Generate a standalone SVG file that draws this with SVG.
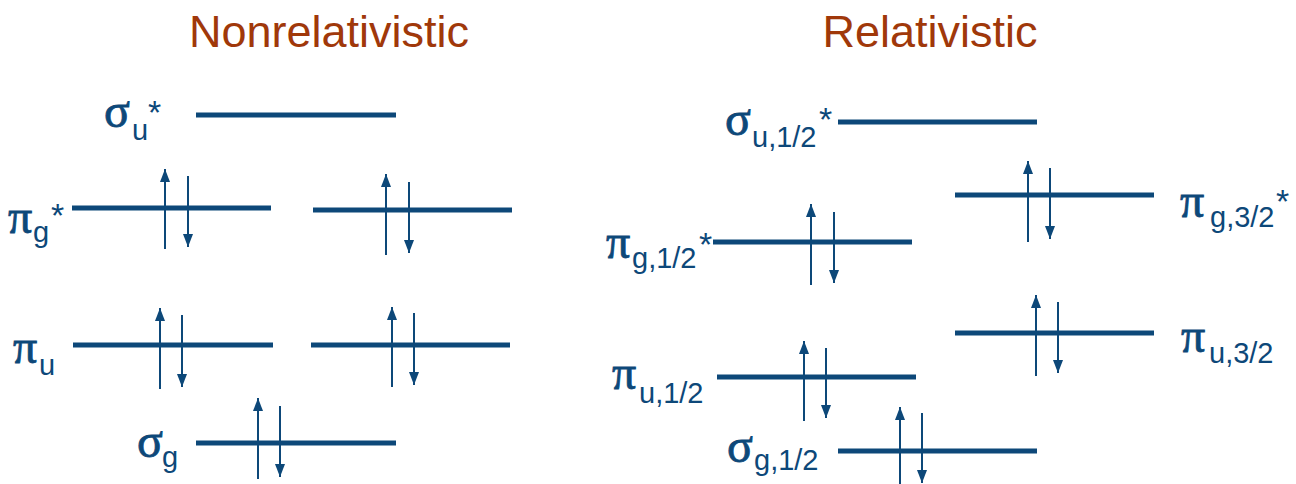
<svg xmlns="http://www.w3.org/2000/svg" width="1296" height="484" viewBox="0 0 1296 484">
<defs>
<marker id="ah" markerUnits="userSpaceOnUse" markerWidth="14" markerHeight="12" refX="13" refY="5" orient="auto">
<path d="M0,0 L13,5 L0,10 Z" fill="#0d4879"/>
</marker>
<style>
.title{font-family:"Liberation Sans",Arial,sans-serif;font-size:45px;fill:#a0380a;text-anchor:middle}
.lvl{stroke:#0d4879;stroke-width:5;fill:none}
.spin{stroke:#0d4879;stroke-width:2;fill:none;marker-end:url(#ah)}
.gk{font-family:"Liberation Serif","Times New Roman",serif;font-size:48px;fill:#0d4879;stroke:#0d4879;stroke-width:0.8}
.sb{font-family:"Liberation Sans",Arial,sans-serif;font-size:29px;fill:#0d4879}
.st{font-family:"Liberation Sans",Arial,sans-serif;font-size:34px;fill:#0d4879}
</style>
</defs>
<rect width="1296" height="484" fill="#ffffff"/>
<text class="title" x="329" y="47">Nonrelativistic</text>
<text class="title" x="930" y="47">Relativistic</text>

<g id="nr-sigma-u-star">
<line class="lvl" x1="196" y1="115" x2="396" y2="115"/>
<text><tspan class="gk" x="104" y="127">σ</tspan><tspan class="sb" x="132" y="140">u</tspan><tspan class="st" x="148" y="124">*</tspan></text>
</g>
<g id="nr-pi-g-star">
<line class="lvl" x1="72" y1="208" x2="271" y2="208"/>
<line class="lvl" x1="313" y1="210" x2="512" y2="210"/>
<text><tspan class="gk" x="8" y="233">π</tspan><tspan class="sb" x="33" y="242">g</tspan><tspan class="st" x="51" y="227">*</tspan></text>
</g>
<g id="nr-pi-u">
<line class="lvl" x1="73" y1="345" x2="273" y2="345"/>
<line class="lvl" x1="311" y1="345" x2="510" y2="345"/>
<text><tspan class="gk" x="13" y="363">π</tspan><tspan class="sb" x="39" y="375">u</tspan></text>
</g>
<g id="nr-sigma-g">
<line class="lvl" x1="196" y1="443" x2="396" y2="443"/>
<text><tspan class="gk" x="137" y="457">σ</tspan><tspan class="sb" x="162" y="467">g</tspan></text>
</g>

<g id="r-sigma-u-half-star">
<line class="lvl" x1="838" y1="122" x2="1037" y2="122"/>
<text><tspan class="gk" x="725" y="135">σ</tspan><tspan class="sb" x="752" y="147">u,1/2</tspan><tspan class="st" x="819" y="131">*</tspan></text>
</g>
<g id="r-pi-g-3half-star">
<line class="lvl" x1="955" y1="195" x2="1154" y2="195"/>
<text><tspan class="gk" x="1180" y="217">π</tspan><tspan class="sb" x="1210" y="227">g,3/2</tspan><tspan class="st" x="1276" y="213">*</tspan></text>
</g>
<g id="r-pi-g-half-star">
<line class="lvl" x1="713" y1="242" x2="912" y2="242"/>
<text><tspan class="gk" x="606" y="258">π</tspan><tspan class="sb" x="632" y="268">g,1/2</tspan><tspan class="st" x="699" y="256">*</tspan></text>
</g>
<g id="r-pi-u-3half">
<line class="lvl" x1="955" y1="333" x2="1154" y2="333"/>
<text><tspan class="gk" x="1181" y="352">π</tspan><tspan class="sb" x="1209" y="363">u,3/2</tspan></text>
</g>
<g id="r-pi-u-half">
<line class="lvl" x1="717" y1="377" x2="916" y2="377"/>
<text><tspan class="gk" x="612" y="389">π</tspan><tspan class="sb" x="639" y="403">u,1/2</tspan></text>
</g>
<g id="r-sigma-g-half">
<line class="lvl" x1="838" y1="451" x2="1037" y2="451"/>
<text><tspan class="gk" x="727" y="462">σ</tspan><tspan class="sb" x="754" y="470">g,1/2</tspan></text>
</g>

<g id="connectors">
<line class="spin" x1="165" y1="249" x2="165" y2="169"/>
<line class="spin" x1="188" y1="176" x2="188" y2="247"/>
<line class="spin" x1="386" y1="255" x2="386" y2="174"/>
<line class="spin" x1="409" y1="182" x2="409" y2="253"/>
<line class="spin" x1="160" y1="389" x2="160" y2="308"/>
<line class="spin" x1="182" y1="315" x2="182" y2="387"/>
<line class="spin" x1="392" y1="387" x2="392" y2="307"/>
<line class="spin" x1="414" y1="313" x2="414" y2="385"/>
<line class="spin" x1="258" y1="479" x2="258" y2="398"/>
<line class="spin" x1="280" y1="406" x2="280" y2="477"/>

<line class="spin" x1="1028" y1="242" x2="1028" y2="161"/>
<line class="spin" x1="1050" y1="168" x2="1050" y2="239"/>
<line class="spin" x1="811" y1="285" x2="811" y2="204"/>
<line class="spin" x1="834" y1="212" x2="834" y2="283"/>
<line class="spin" x1="1036" y1="376" x2="1036" y2="295"/>
<line class="spin" x1="1058" y1="302" x2="1058" y2="373"/>
<line class="spin" x1="804" y1="421" x2="804" y2="341"/>
<line class="spin" x1="826" y1="348" x2="826" y2="418"/>
<line class="spin" x1="900" y1="486" x2="900" y2="407"/>
<line class="spin" x1="922" y1="413" x2="922" y2="483"/>
</g>
</svg>
